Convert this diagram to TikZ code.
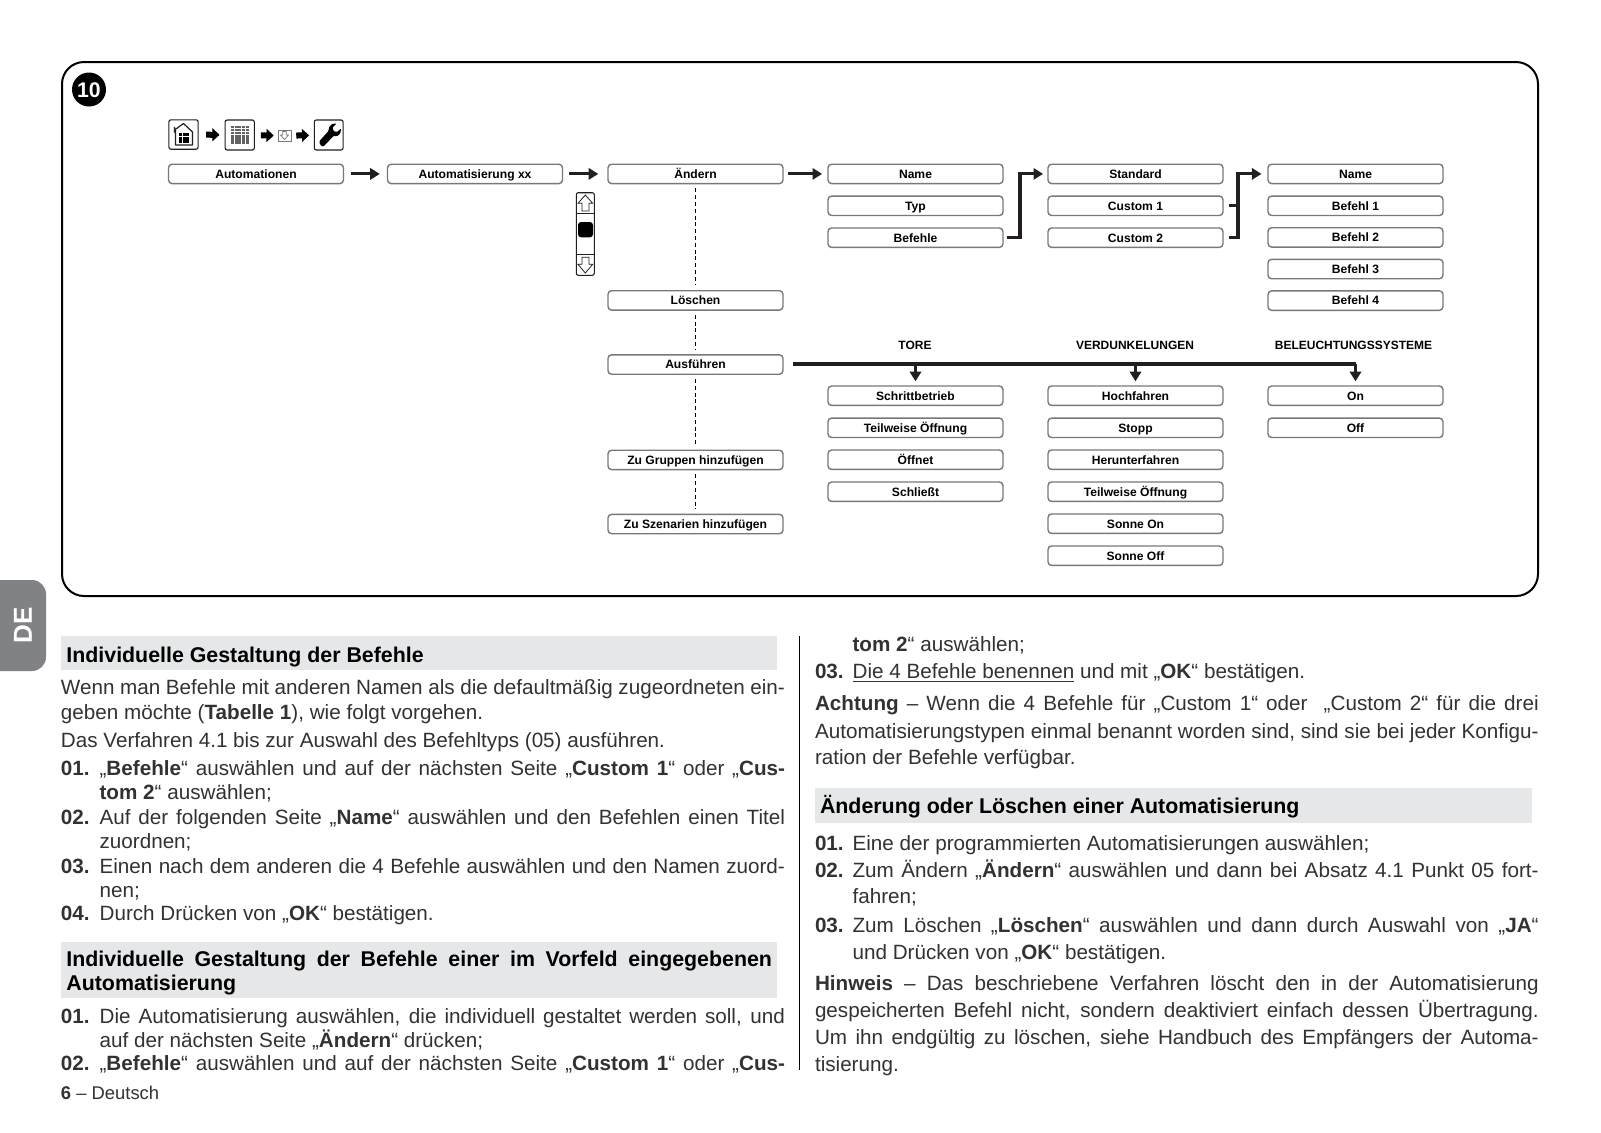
\documentclass[tikz,border=0pt]{standalone}
\usepackage{fontspec}
\setmainfont{Liberation Sans}
\usetikzlibrary{arrows.meta}
\definecolor{ink}{HTML}{231F20}
\definecolor{bodyink}{HTML}{333132}
\definecolor{boxgray}{HTML}{77787B}
\definecolor{headgray}{HTML}{E6E7E8}
\definecolor{tabgray}{HTML}{808285}
\newcount\tcnt
\newcommand{\bodyfnt}{\fontsize{10.33pt}{12pt}\selectfont\color{bodyink}}
\newcommand{\headfnt}{\fontsize{10.68pt}{12pt}\selectfont\bfseries\color{black}}
% plain line
\newcommand{\tlin}[3]{\global\advance\tcnt by 1
  \node[txt] (t\the\tcnt) at (#1,#2) {\bodyfnt #3};}
% justified line: x, baseline y, width in px
\newcommand{\tjus}[4]{\global\advance\tcnt by 1
  \node[txt] (t\the\tcnt) at (#1,#2) {\hbox to \dimexpr#3pt/2\relax{\bodyfnt\spaceskip=.278em plus 1fil minus 1fil\relax #4}};}
% heading lines
\newcommand{\hlin}[3]{\global\advance\tcnt by 1
  \node[txt] (t\the\tcnt) at (#1,#2) {\headfnt #3};}
\newcommand{\hjus}[4]{\global\advance\tcnt by 1
  \node[txt] (t\the\tcnt) at (#1,#2) {\hbox to \dimexpr#3pt/2\relax{\headfnt\spaceskip=.278em plus 1fil minus 1fil\relax #4}};}
\tikzset{
  txt/.style={anchor=base west,inner sep=0pt,outer sep=0pt},
  menubox/.style={draw=boxgray,line width=.7pt,rounded corners=1.8pt,fill=white,inner sep=0pt,
    minimum width=87.5pt,minimum height=9.7pt,text height=4.3pt,text depth=0pt,
    font=\fontsize{6.05pt}{7pt}\selectfont\bfseries,text=black},
  catlabel/.style={inner sep=0pt,text height=4.3pt,text depth=0pt,
    font=\fontsize{6pt}{7pt}\selectfont\bfseries,text=black},
  conn/.style={draw=ink,line width=1.55pt},
  tip/.style={-{Triangle[length=4.8pt,width=5.6pt]}},
  dashline/.style={draw=black,line width=.5pt,dash pattern=on 2pt off 1.4pt,shorten >=2.5pt,shorten <=2pt},
  iconbox/.style={draw=ink,line width=.55pt,rounded corners=1pt,inner sep=0pt,fill=white},
  blockarrow/.style={draw=black,line width=3pt,-{Triangle[length=3.6pt,width=6.4pt]}},
  headband/.style={fill=headgray,draw=none},
}
\begin{document}
\begin{tikzpicture}[x=.5pt,y=-.5pt]
\useasboundingbox (0,0) rectangle (1601,1132);
\fill[white] (0,0) rectangle (1601,1132);
% frame
\draw[black,line width=1pt,rounded corners=11pt] (62,62) rectangle (1538,596);
\node[circle,fill=black,text=white,inner sep=0pt,minimum size=17pt,text height=7.6pt,text depth=0pt,font=\fontsize{10.6pt}{11pt}\selectfont\bfseries] (badge) at (89,89.5) {10};
% icon row
\node[iconbox,minimum width=14.6pt,minimum height=14.7pt] (home) at (183.5,134.5) {};
\node[iconbox,minimum width=14.6pt,minimum height=15pt] (grid) at (239.7,135) {};
\node[draw=boxgray,line width=.35pt,inner sep=0pt,minimum width=6.4pt,minimum height=5.8pt] (small) at (284.5,135.7) {};
\node[iconbox,minimum width=14.4pt,minimum height=15pt] (wrench) at (328.7,135) {};
\draw[blockarrow,shorten <=3.7pt,shorten >=2.5pt] (home) -- (grid);
\draw[blockarrow,shorten <=3pt,shorten >=2pt] (grid) -- (small);
\draw[blockarrow,shorten <=2.5pt,shorten >=2.3pt] (small) -- (wrench);
% house
\draw[ink,line width=.6pt,line join=round] (174.5,132.5) -- (174.5,127) (174.5,130) -- (183.5,123.5) -- (192.5,132) -- (192.5,145) -- (175.5,145) -- (175.5,130);
\foreach \i in {0,1,2}\foreach \j in {0,1,2}{\fill[black] (179+3.7*\i,133+3.7*\j) rectangle ++(3,3);}
% key grid
\foreach \i in {0,...,4}\foreach \j in {0,...,5}{\fill[ink!70] (231.2+3.6*\i,125.8+3.1*\j) rectangle ++(3,2.4);}
% small down arrow
\draw[boxgray,line width=.35pt,line join=round] (282.8,131.5) -- (286.2,131.5) -- (286.2,135) -- (288.5,135) -- (284.5,139.6) -- (280.5,135) -- (282.8,135) -- cycle;
% wrench
\fill[black,rounded corners=.4pt] (319.5,143.5) -- (322,146.5) -- (324,146) -- (333.5,136) -- (337.5,136) -- (340.5,133) -- (341,128.5) -- (337,132) -- (333.5,131) -- (332.5,127.5) -- (336.5,123.5) -- (332,124) -- (329,127) -- (328.5,131) -- (319.5,141) -- cycle;
% menu boxes
\node[menubox] (automationen) at (256,173.9) {Automationen};
\node[menubox] (automatisierung) at (475,173.9) {Automatisierung xx};
\node[menubox] (aendern) at (695.5,173.9) {Ändern};
\node[menubox] (loeschen) at (695.5,300.4) {Löschen};
\node[menubox] (ausfuehren) at (695.5,364.5) {Ausführen};
\node[menubox] (gruppen) at (695.5,459.9) {Zu Gruppen hinzufügen};
\node[menubox] (szenarien) at (695.5,524) {Zu Szenarien hinzufügen};
\node[menubox] (name) at (915.5,173.9) {Name};
\node[menubox] (typ) at (915.5,205.8) {Typ};
\node[menubox] (befehle) at (915.5,237.7) {Befehle};
\node[menubox] (standard) at (1135.5,173.9) {Standard};
\node[menubox] (customa) at (1135.5,205.8) {Custom 1};
\node[menubox] (customb) at (1135.5,237.7) {Custom 2};
\node[menubox] (nameb) at (1355.5,173.9) {Name};
\node[menubox] (befa) at (1355.5,205.8) {Befehl 1};
\node[menubox] (befb) at (1355.5,237.4) {Befehl 2};
\node[menubox] (befc) at (1355.5,269) {Befehl 3};
\node[menubox] (befd) at (1355.5,300.6) {Befehl 4};
\node[catlabel] (tore) at (915,345) {TORE};
\node[catlabel] (verd) at (1135,345) {VERDUNKELUNGEN};
\node[catlabel] (bel) at (1353.5,345) {BELEUCHTUNGSSYSTEME};
\node[menubox] (schritt) at (915.5,395.7) {Schrittbetrieb};
\node[menubox] (teila) at (915.5,427.8) {Teilweise Öffnung};
\node[menubox] (oeffnet) at (915.5,459.7) {Öffnet};
\node[menubox] (schliesst) at (915.5,491.7) {Schließt};
\node[menubox] (hoch) at (1135.5,395.7) {Hochfahren};
\node[menubox] (stopp) at (1135.5,427.8) {Stopp};
\node[menubox] (runter) at (1135.5,459.7) {Herunterfahren};
\node[menubox] (teilb) at (1135.5,491.7) {Teilweise Öffnung};
\node[menubox] (sonnea) at (1135.5,523.7) {Sonne On};
\node[menubox] (sonneb) at (1135.5,555.7) {Sonne Off};
\node[menubox] (on) at (1355.5,395.7) {On};
\node[menubox] (off) at (1355.5,427.8) {Off};
% connectors
\draw[conn,tip,shorten <=3.3pt,shorten >=3.5pt] (automationen) -- (automatisierung);
\draw[conn,tip,shorten <=3pt,shorten >=4.5pt] (automatisierung) -- (aendern);
\draw[conn,tip,shorten <=2pt,shorten >=2.6pt] (aendern) -- (name);
\coordinate (ea) at (1020,173.9);
\coordinate (eb) at (1238,173.9);
\coordinate (ec) at (1238,205.8);
\draw[conn,tip,line join=miter] ([xshift=1.5pt]befehle.east) -| (ea) -- ([xshift=-2.1pt]standard.west);
\draw[conn,tip,line join=miter] ([xshift=2.5pt]customb.east) -| (eb) -- ([xshift=-2.9pt]nameb.west);
\draw[conn] ([xshift=2.8pt]customa.east) -- (ec);
\draw[dashline] (aendern) -- (loeschen);
\draw[dashline] (loeschen) -- (ausfuehren);
\draw[dashline] (ausfuehren) -- (gruppen);
\draw[dashline] (gruppen) -- (szenarien);
\coordinate (bt) at (915.5,364);
\coordinate (bv) at (1135.5,364);
\coordinate (bb) at (1355.5,364);
\draw[conn] ([xshift=4.5pt,yshift=.25pt]ausfuehren.east) -- (bb);
\draw[conn,tip,shorten >=2pt] (bt) -- (schritt.north);
\draw[conn,tip,shorten >=2pt] (bv) -- (hoch.north);
\draw[conn,tip,shorten >=2pt] (bb) -- (on.north);
% scroll widget
\node[draw=ink,line width=.55pt,rounded corners=1pt,inner sep=0pt,minimum width=9pt,minimum height=41.3pt] (scroll) at (585.3,234) {};
\draw[ink,line width=.5pt] (576.3,213) -- (594.3,213) (576.3,254.7) -- (594.3,254.7);
\fill[black,rounded corners=1.5pt] (578,222) rectangle (593,237.3);
\draw[ink,line width=.4pt,line join=miter] (585.3,195) -- (592.7,203.3) -- (589,203.3) -- (589,211) -- (582,211) -- (582,203.3) -- (578,203.3) -- cycle;
\draw[ink,line width=.4pt,line join=miter] (585.3,273) -- (592.7,264.3) -- (589,264.3) -- (589,257.3) -- (582,257.3) -- (582,264.3) -- (578,264.3) -- cycle;
% DE tab
\fill[tabgray,rounded corners=7pt] (-20,580) rectangle (46,671);
\node[rotate=90,inner sep=0pt,text=white,font=\fontsize{13pt}{14pt}\selectfont\bfseries] (de) at (23,625) {DE};
% bands
\fill[headband] (61,636) rectangle (777,670);
\fill[headband] (61,942) rectangle (777,998);
\fill[headband] (815,788) rectangle (1531.5,823);
% separator
\draw[black,line width=.5pt] (799.7,636) -- (799.7,1070);
% left column
\hlin{66.4}{662}{Individuelle Gestaltung der Befehle}
\tjus{61}{694.3}{724}{Wenn man Befehle mit anderen Namen als die defaultmäßig zugeordneten ein-}
\tlin{61}{719.3}{geben möchte (\textbf{Tabelle 1}), wie folgt vorgehen.}
\tlin{61}{747.5}{Das Verfahren 4.1 bis zur Auswahl des Befehltyps (05) ausführen.}
\tlin{61}{775.5}{\textbf{01.}}
\tjus{99.6}{775.5}{685.4}{„\textbf{Befehle}“ auswählen und auf der nächsten Seite „\textbf{Custom 1}“ oder „\textbf{Cus-}}
\tlin{99.6}{799.3}{\textbf{tom 2}“ auswählen;}
\tlin{61}{824.7}{\textbf{02.}}
\tjus{99.6}{824.7}{685.4}{Auf der folgenden Seite „\textbf{Name}“ auswählen und den Befehlen einen Titel}
\tlin{99.6}{848.2}{zuordnen;}
\tlin{61}{873}{\textbf{03.}}
\tjus{99.6}{873}{685.4}{Einen nach dem anderen die 4 Befehle auswählen und den Namen zuord-}
\tlin{99.6}{897.2}{nen;}
\tlin{61}{920.8}{\textbf{04.}}
\tlin{99.6}{920.8}{Durch Drücken von „\textbf{OK}“ bestätigen.}
\hjus{66.4}{966}{705.6}{Individuelle Gestaltung der Befehle einer im Vorfeld eingegebenen}
\hlin{66.4}{990}{Automatisierung}
\tlin{61}{1023.7}{\textbf{01.}}
\tjus{99.6}{1023.7}{685.4}{Die Automatisierung auswählen, die individuell gestaltet werden soll, und}
\tlin{99.6}{1047.5}{auf der nächsten Seite „\textbf{Ändern}“ drücken;}
\tlin{61}{1070.8}{\textbf{02.}}
\tjus{99.6}{1070.8}{685.4}{„\textbf{Befehle}“ auswählen und auf der nächsten Seite „\textbf{Custom 1}“ oder „\textbf{Cus-}}
\node[txt,font=\fontsize{9.2pt}{11pt}\selectfont,text=bodyink] (pageno) at (61,1099.8) {\textbf{6} – Deutsch};
% right column
\tlin{852.6}{651.3}{\textbf{tom 2}“ auswählen;}
\tlin{815}{678.6}{\textbf{03.}}
\tlin{852.6}{678.6}{\underline{Die 4 Befehle benennen} und mit „\textbf{OK}“ bestätigen.}
\tjus{815}{710}{723.7}{\textbf{Achtung} – Wenn die 4 Befehle für „Custom 1“ oder \ „Custom 2“ für die drei}
\tjus{815}{738}{723.7}{Automatisierungstypen einmal benannt worden sind, sind sie bei jeder Konfigu-}
\tlin{815}{764.7}{ration der Befehle verfügbar.}
\hlin{820}{813.2}{Änderung oder Löschen einer Automatisierung}
\tlin{815}{850.5}{\textbf{01.}}
\tlin{852.6}{850.5}{Eine der programmierten Automatisierungen auswählen;}
\tlin{815}{877}{\textbf{02.}}
\tjus{852.6}{877}{686}{Zum Ändern „\textbf{Ändern}“ auswählen und dann bei Absatz 4.1 Punkt 05 fort-}
\tlin{852.6}{903}{fahren;}
\tlin{815}{932}{\textbf{03.}}
\tjus{852.6}{932}{686}{Zum Löschen „\textbf{Löschen}“ auswählen und dann durch Auswahl von „\textbf{JA}“}
\tlin{852.6}{959}{und Drücken von „\textbf{OK}“ bestätigen.}
\tjus{815}{990}{723.7}{\textbf{Hinweis} – Das beschriebene Verfahren löscht den in der Automatisierung}
\tjus{815}{1017}{723.7}{gespeicherten Befehl nicht, sondern deaktiviert einfach dessen Übertragung.}
\tjus{815}{1044}{723.7}{Um ihn endgültig zu löschen, siehe Handbuch des Empfängers der Automa-}
\tlin{815}{1071}{tisierung.}
\end{tikzpicture}
\end{document}
